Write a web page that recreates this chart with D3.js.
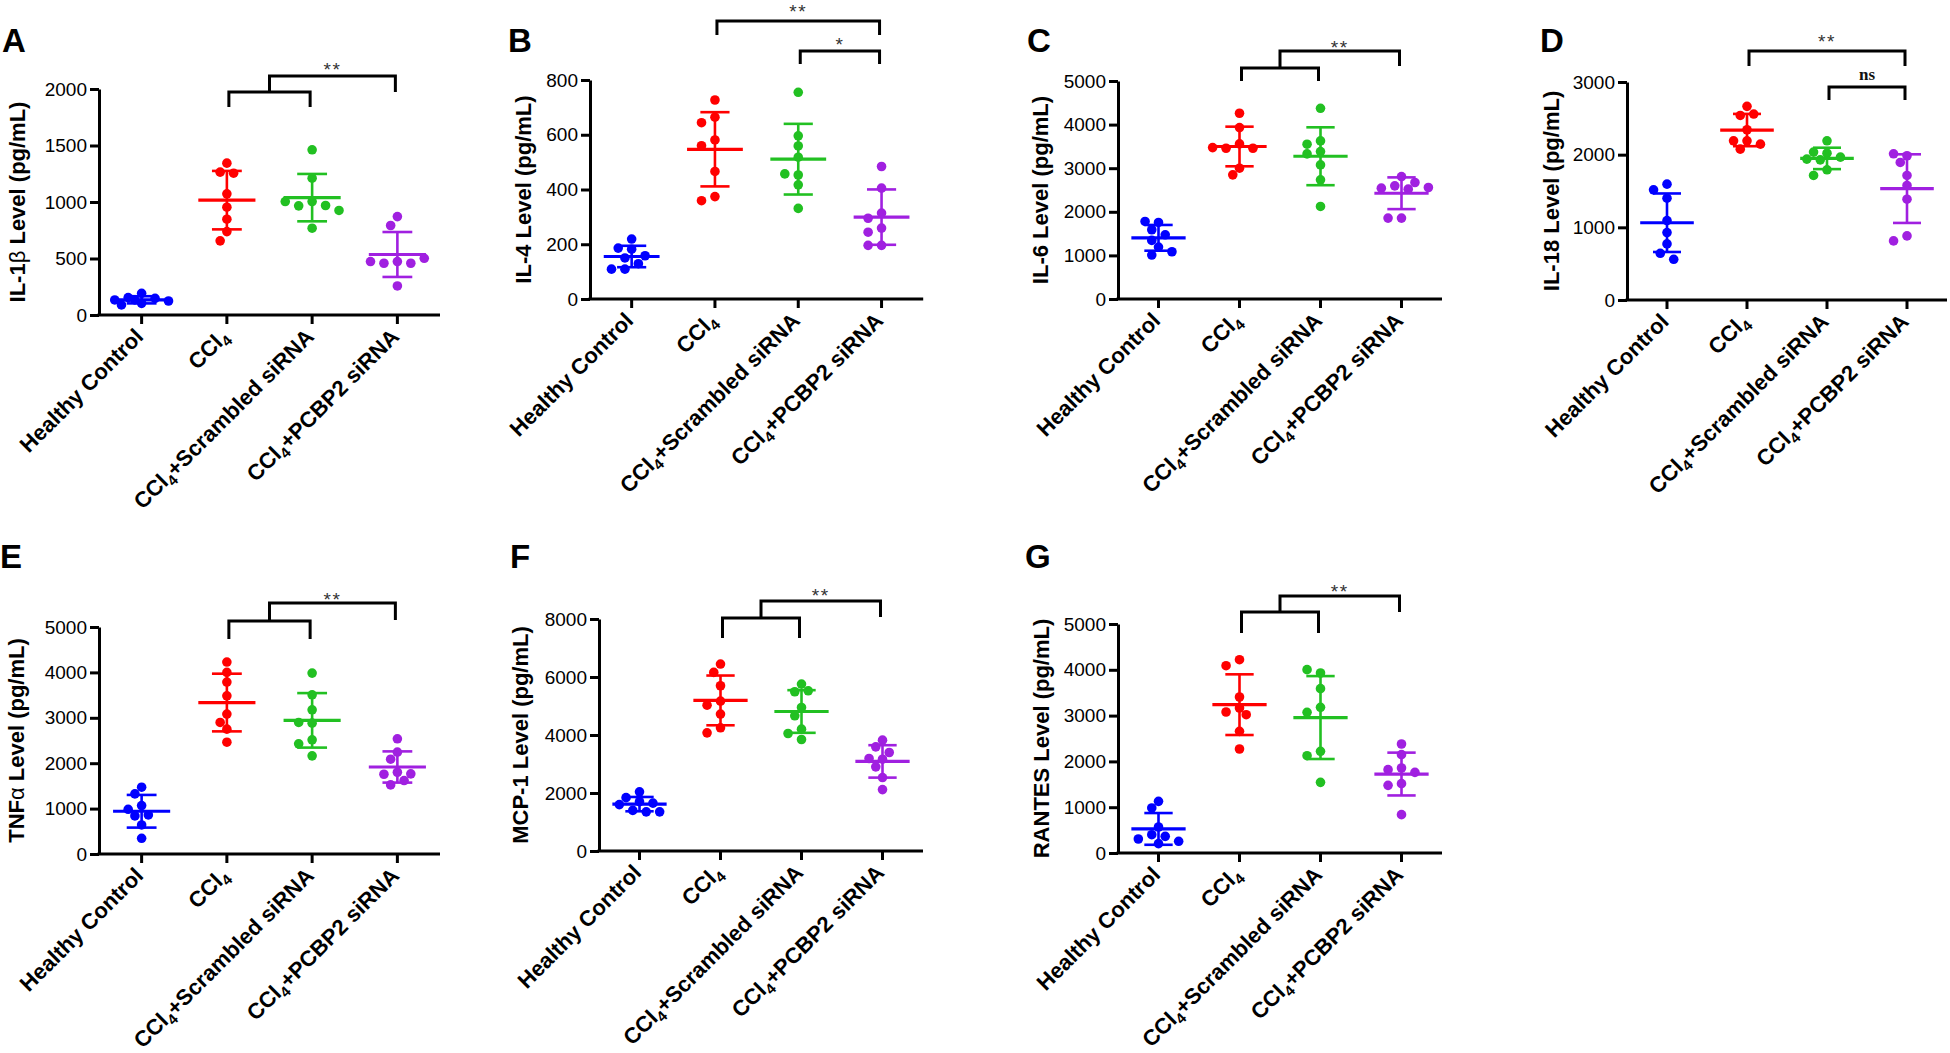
<!DOCTYPE html>
<html><head><meta charset="utf-8">
<script src="https://cdn.jsdelivr.net/npm/d3@7"></script>
<style>body{margin:0;background:#fff} svg{display:block}</style>
</head><body><svg id="c" width="1950" height="1053"></svg>
<script>
// ---------------- DATA ----------------
const groups = ["Healthy Control", "CCl4", "CCl4+Scrambled siRNA", "CCl4+PCBP2 siRNA"];
const groupColors = ["#0000ff", "#ff0000", "#22c022", "#a020e0"];

const il1b = [
  [192, 154, 148, 133, 124, 103, 89, 133],
  [1344, 1264, 1255, 1072, 954, 848, 738, 656],
  [1462, 1211, 1004, 966, 969, 1004, 925, 768],
  [871, 792, 473, 458, 458, 473, 502, 257]
];
const il4 = [
  [219, 182, 186, 158, 150, 129, 109, 109],
  [727, 664, 644, 581, 560, 466, 374, 359],
  [755, 596, 559, 518, 453, 457, 417, 331],
  [484, 405, 314, 295, 259, 244, 196, 196]
];
const il6 = [
  [1756, 1779, 1588, 1473, 1191, 1344, 1008, 1084],
  [4260, 3931, 3557, 3458, 3458, 3473, 3000, 2847],
  [4374, 3626, 3550, 3382, 3328, 3076, 2733, 2122],
  [2809, 2595, 2672, 2542, 2519, 2557, 1855, 1855]
];
const il18 = [
  [1594, 1516, 1401, 1093, 928, 772, 643, 560],
  [2665, 2540, 2559, 2343, 2191, 2191, 2145, 2076],
  [2191, 2021, 2035, 1966, 1929, 1939, 1792, 1714],
  [1985, 2012, 1893, 1714, 1576, 1387, 882, 813]
];
const tnfa = [
  [1471, 1324, 1066, 985, 860, 838, 640, 346],
  [4228, 4000, 3787, 3485, 3081, 2897, 2750, 2463],
  [3985, 3507, 3176, 2882, 2897, 2515, 2426, 2162],
  [2537, 2243, 2088, 1801, 1757, 1765, 1618, 1522]
];
const mcp1 = [
  [2040, 1840, 1700, 1650, 1600, 1400, 1350, 1350],
  [6446, 6158, 5698, 5168, 5030, 4720, 4248, 4075],
  [5756, 5491, 5525, 4950, 4662, 4202, 4052, 3845],
  [3822, 3591, 3396, 3166, 3189, 2901, 2532, 2118]
];
const rantes = [
  [1128, 983, 568, 400, 364, 306, 255, 204],
  [4221, 4090, 3406, 3166, 3079, 3020, 2656, 2271],
  [3930, 4003, 3588, 3180, 3071, 2220, 2125, 1543],
  [2380, 2147, 1856, 1820, 1761, 1514, 1477, 837]
];

const il1bTicks = [0, 500, 1000, 1500, 2000];
const il4Ticks = [0, 200, 400, 600, 800];
const il6Ticks = [0, 1000, 2000, 3000, 4000, 5000];
const il18Ticks = [0, 1000, 2000, 3000];
const tnfaTicks = [0, 1000, 2000, 3000, 4000, 5000];
const mcp1Ticks = [0, 2000, 4000, 6000, 8000];
const rantesTicks = [0, 1000, 2000, 3000, 4000, 5000];

// ---------------- LAYOUT ----------------
const panels = [
  {letter:"A", title:["IL-1","β"," Level (pg/mL)"], data:il1b, ticks:il1bTicks,
   x0:99, top:89, bottom:315, step:85.25, lx:2, ly:52, tx:25,
   brackets:[{type:"group", low:92, lowLeg:107, high:76, highLeg:92, label:"**", lab:0}]},
  {letter:"B", title:["IL-4 Level (pg/mL)"], data:il4, ticks:il4Ticks,
   x0:590, top:80, bottom:299, step:83.3, lx:508, ly:52, tx:531,
   brackets:[{type:"pair", a:1, b:3, y:21, leg:35, label:"**", lab:-3.5},
             {type:"pair", a:2, b:3, y:51, leg:64, label:"*", lab:0}]},
  {letter:"C", title:["IL-6 Level (pg/mL)"], data:il6, ticks:il6Ticks,
   x0:1118, top:81, bottom:299, step:81, lx:1027, ly:52, tx:1048,
   brackets:[{type:"group", low:68, lowLeg:81, high:51, highLeg:66, label:"**", lab:3}]},
  {letter:"D", title:["IL-18 Level (pg/mL)"], data:il18, ticks:il18Ticks,
   x0:1627, top:82, bottom:300, step:80, lx:1540, ly:52, tx:1559,
   brackets:[{type:"pair", a:1, b:3, y:51, leg:66, label:"**", lab:-3},
             {type:"pair", a:2, b:3, y:87, leg:100, label:"ns", lab:-7, serif:true}]},
  {letter:"E", title:["TNF","α"," Level (pg/mL)"], data:tnfa, ticks:tnfaTicks,
   x0:99, top:627, bottom:854, step:85.25, lx:0, ly:568, tx:24,
   brackets:[{type:"group", low:621, lowLeg:639, high:603, highLeg:620, label:"**", lab:3}]},
  {letter:"F", title:["MCP-1 Level (pg/mL)"], data:mcp1, ticks:mcp1Ticks,
   x0:599, top:619, bottom:851, step:81, lx:510, ly:568, tx:528,
   brackets:[{type:"group", low:618, lowLeg:638, high:601, highLeg:617, label:"**", lab:1}]},
  {letter:"G", title:["RANTES Level (pg/mL)"], data:rantes, ticks:rantesTicks,
   x0:1118, top:624, bottom:853, step:81, lx:1025, ly:568, tx:1049,
   brackets:[{type:"group", low:612, lowLeg:633, high:596, highLeg:612, label:"**", lab:2}]}
];

const SANS = "'Liberation Sans', Arial, Helvetica, sans-serif";
const SERIF = "'Liberation Serif', 'Times New Roman', serif";
const R = 4.8;

function swarm(pys, r) {
  const step = 1.4 * r, d = 2 * r * 0.98;
  const placed = [];
  return pys.map(y => {
    let best = 0, bestScore = -Infinity;
    for (let k = 0; k <= 4; k++) {
      const cands = k === 0 ? [0] : [-k * step, k * step];
      for (const c of cands) {
        const minD = placed.reduce((m, p) => Math.min(m, Math.hypot(p.x - c, p.y - y)), Infinity);
        if (minD >= d) { placed.push({x: c, y}); return c; }
        if (minD > bestScore) { bestScore = minD; best = c; }
      }
    }
    placed.push({x: best, y});
    return best;
  });
}

const svg = d3.select("#c");

panels.forEach(P => {
  const g = svg.append("g");
  const n = groups.length;
  const x = d3.scaleBand().domain(d3.range(n)).range([P.x0, P.x0 + n * P.step]).paddingInner(0).paddingOuter(0);
  const cx = i => x(i) + x.bandwidth() / 2;
  const y = d3.scaleLinear().domain([0, d3.max(P.ticks)]).range([P.bottom, P.top]);

  // panel letter
  g.append("text").attr("x", P.lx).attr("y", P.ly)
    .attr("font-family", SANS).attr("font-weight", "bold").attr("font-size", 33)
    .text(P.letter);

  // y axis
  const ya = g.append("g").attr("transform", `translate(${P.x0},0)`)
    .call(d3.axisLeft(y).tickValues(P.ticks).tickSize(9).tickSizeOuter(0).tickPadding(3).tickFormat(d3.format("d")));
  ya.selectAll("path,line").attr("stroke", "#000").attr("stroke-width", 3);
  ya.selectAll("text").attr("font-family", SANS).attr("font-size", 19).attr("fill", "#000");

  // y title
  const tt = g.append("text")
    .attr("transform", `translate(${P.tx},${(P.top + P.bottom) / 2}) rotate(-90)`)
    .attr("text-anchor", "middle").attr("font-family", SANS).attr("font-weight", "bold").attr("font-size", 22);
  P.title.forEach(part => {
    const ts = tt.append("tspan").text(part);
    if (/^[αβ]$/.test(part)) ts.attr("font-weight", "normal");
  });

  // x axis
  g.append("line").attr("x1", P.x0 - 1.5).attr("x2", P.x0 + n * P.step).attr("y1", P.bottom).attr("y2", P.bottom)
    .attr("stroke", "#000").attr("stroke-width", 3);
  groups.forEach((lab, i) => {
    g.append("line").attr("x1", cx(i)).attr("x2", cx(i)).attr("y1", P.bottom).attr("y2", P.bottom + 9)
      .attr("stroke", "#000").attr("stroke-width", 3);
    const t = g.append("text")
      .attr("transform", `translate(${cx(i) + 3},${P.bottom + 23}) rotate(-45)`)
      .attr("text-anchor", "end").attr("font-family", SANS).attr("font-weight", "bold").attr("font-size", 22);
    if (lab.startsWith("CCl4")) {
      t.append("tspan").text("CCl");
      t.append("tspan").attr("font-size", 15).attr("dy", 5).text("4");
      const rest = lab.slice(4);
      if (rest) t.append("tspan").attr("dy", -5).text(rest);
    } else t.text(lab);
  });

  // data
  P.data.forEach((vals, i) => {
    const col = groupColors[i];
    const pys = vals.map(v => y(v));
    const offs = swarm(pys, R);
    g.append("g").selectAll("circle").data(vals).join("circle")
      .attr("cx", (d, k) => cx(i) + offs[k]).attr("cy", d => y(d)).attr("r", R).attr("fill", col);
    const m = d3.mean(vals), sd = d3.deviation(vals);
    const mw = 0.335 * P.step, cw = 0.175 * P.step;
    g.append("line").attr("x1", cx(i)).attr("x2", cx(i)).attr("y1", y(m + sd)).attr("y2", y(m - sd))
      .attr("stroke", col).attr("stroke-width", 2.6);
    [m + sd, m - sd].forEach(v => g.append("line").attr("x1", cx(i) - cw).attr("x2", cx(i) + cw)
      .attr("y1", y(v)).attr("y2", y(v)).attr("stroke", col).attr("stroke-width", 2.6));
    g.append("line").attr("x1", cx(i) - mw).attr("x2", cx(i) + mw).attr("y1", y(m)).attr("y2", y(m))
      .attr("stroke", col).attr("stroke-width", 3.2);
  });

  // significance brackets
  const inset = 2;
  P.brackets.forEach(b => {
    let path, lx, ly;
    if (b.type === "group") {
      const a1 = cx(1) + inset, a2 = cx(2) - inset, c3 = cx(3) - inset, mid = (a1 + a2) / 2;
      path = `M${a1},${b.lowLeg}V${b.low}H${a2}V${b.lowLeg}M${mid},${b.low}V${b.high}H${c3}V${b.highLeg}`;
      lx = (mid + c3) / 2; ly = b.high + b.lab;
    } else {
      const a1 = cx(b.a) + inset, a2 = cx(b.b) - inset;
      path = `M${a1},${b.leg}V${b.y}H${a2}V${b.leg}`;
      lx = (a1 + a2) / 2; ly = b.y + b.lab;
    }
    g.append("path").attr("d", path).attr("fill", "none").attr("stroke", "#000").attr("stroke-width", 3)
      .attr("stroke-linejoin", "miter");
    const t = g.append("text").attr("x", lx).attr("y", ly).attr("text-anchor", "middle").text(b.label);
    if (b.serif) t.attr("font-family", SERIF).attr("font-weight", "bold").attr("font-size", 17).attr("fill", "#111");
    else t.attr("font-family", SANS).attr("font-size", 19).attr("fill", "#333").attr("letter-spacing", 1.5);
  });
});
</script></body></html>
